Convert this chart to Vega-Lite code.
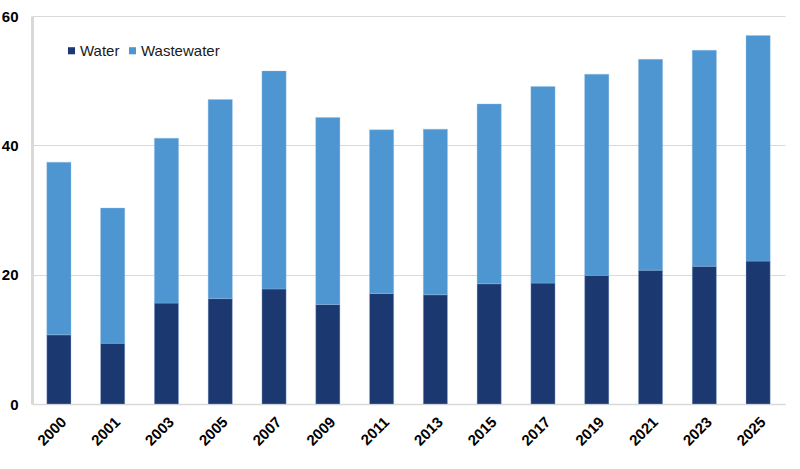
{
  "$schema": "https://vega.github.io/schema/vega-lite/v6.json",
  "width": 753,
  "height": 388,
  "autosize": {"type": "none"},
  "padding": {"left": 32, "top": 16, "right": 15, "bottom": 65},
  "background": "white",
  "config": {
    "view": {"stroke": null},
    "font": "Liberation Sans"
  },
  "data": {
    "values": [
      {"year": "2000", "series": "Water", "value": 10.7},
      {"year": "2000", "series": "Wastewater", "value": 26.7},
      {"year": "2001", "series": "Water", "value": 9.4},
      {"year": "2001", "series": "Wastewater", "value": 20.9},
      {"year": "2003", "series": "Water", "value": 15.6},
      {"year": "2003", "series": "Wastewater", "value": 25.5},
      {"year": "2005", "series": "Water", "value": 16.3},
      {"year": "2005", "series": "Wastewater", "value": 30.8},
      {"year": "2007", "series": "Water", "value": 17.8},
      {"year": "2007", "series": "Wastewater", "value": 33.7},
      {"year": "2009", "series": "Water", "value": 15.4},
      {"year": "2009", "series": "Wastewater", "value": 28.9},
      {"year": "2011", "series": "Water", "value": 17.1},
      {"year": "2011", "series": "Wastewater", "value": 25.3},
      {"year": "2013", "series": "Water", "value": 16.9},
      {"year": "2013", "series": "Wastewater", "value": 25.6},
      {"year": "2015", "series": "Water", "value": 18.6},
      {"year": "2015", "series": "Wastewater", "value": 27.8},
      {"year": "2017", "series": "Water", "value": 18.7},
      {"year": "2017", "series": "Wastewater", "value": 30.4},
      {"year": "2019", "series": "Water", "value": 19.9},
      {"year": "2019", "series": "Wastewater", "value": 31.1},
      {"year": "2021", "series": "Water", "value": 20.7},
      {"year": "2021", "series": "Wastewater", "value": 32.6},
      {"year": "2023", "series": "Water", "value": 21.3},
      {"year": "2023", "series": "Wastewater", "value": 33.4},
      {"year": "2025", "series": "Water", "value": 22.1},
      {"year": "2025", "series": "Wastewater", "value": 34.9}
    ]
  },
  "mark": {"type": "bar", "stroke": "#9bbfe3", "strokeWidth": 0.6, "strokeOpacity": 0.6},
  "encoding": {
    "x": {
      "field": "year",
      "type": "ordinal",
      "sort": null,
      "scale": {"paddingInner": 0.55, "paddingOuter": 0.275},
      "axis": {
        "title": null,
        "labelAngle": -45,
        "labelFont": "Liberation Sans",
        "labelFontSize": 15,
        "labelFontWeight": "bold",
        "labelColor": "#000000",
        "labelPadding": 10,
        "ticks": false,
        "domainColor": "#d9d9d9",
        "domainWidth": 1.5,
        "grid": false
      }
    },
    "y": {
      "field": "value",
      "type": "quantitative",
      "stack": "zero",
      "scale": {"domain": [0, 60], "nice": false},
      "axis": {
        "title": null,
        "values": [0, 20, 40, 60],
        "labelFont": "Liberation Sans",
        "labelFontSize": 15,
        "labelFontWeight": "bold",
        "labelColor": "#000000",
        "labelPadding": 14,
        "ticks": false,
        "domainColor": "#d9d9d9",
        "domainWidth": 3,
        "gridColor": "#d9d9d9",
        "gridWidth": 1
      }
    },
    "color": {
      "field": "series",
      "type": "nominal",
      "scale": {"domain": ["Water", "Wastewater"], "range": ["#1c3870", "#4d96d1"]},
      "legend": {
        "title": null,
        "orient": "none",
        "legendX": 32,
        "legendY": 27,
        "direction": "horizontal",
        "symbolType": "square",
        "symbolSize": 50,
        "symbolStrokeWidth": 0,
        "labelFont": "Liberation Sans",
        "labelFontSize": 15,
        "labelColor": "#1a1a1a",
        "labelOffset": 1,
        "columnPadding": 5
      }
    },
    "order": {"field": "series", "sort": "descending"}
  }
}
